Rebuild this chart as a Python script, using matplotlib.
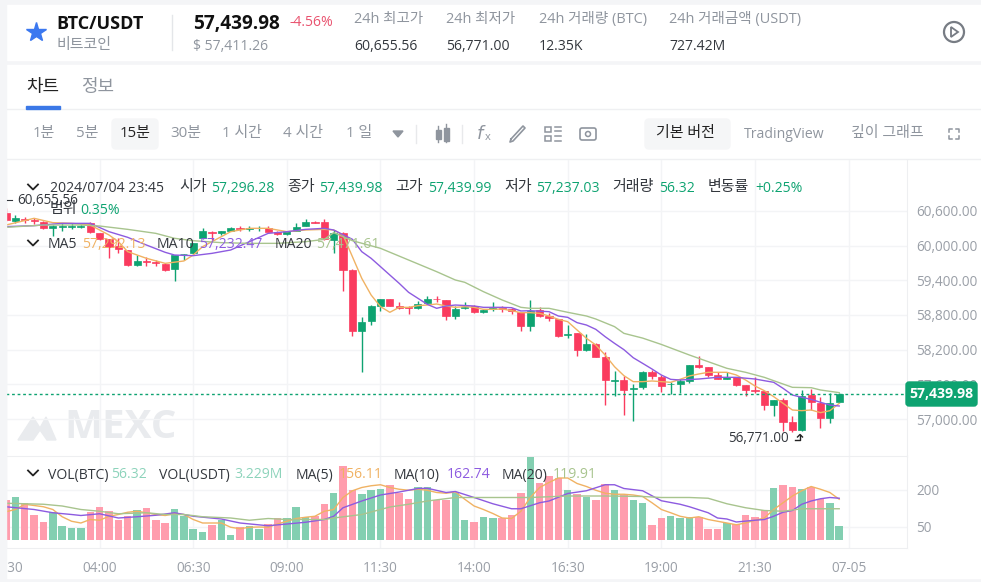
#!/usr/bin/env python3
"""
Plot BTC/USDT 15 minute candles with volume
"""

import matplotlib.pyplot as plt
from matplotlib.patches import Circle, FancyBboxPatch, Polygon, Rectangle

candle_idx = list(range(-10, 80))
opens = [60558, 60431, 60455, 60443, 60414, 60299, 60322, 60322, 60330, 60385,
         60224, 60114, 59992, 59924, 59664, 59740, 59711, 59682, 59590, 59848,
         59866, 60126, 60241, 60224, 60258, 60310, 60293, 60299, 60310, 60241,
         60195, 60258, 60345, 60409, 60403, 60097, 60224, 59578, 58523, 58696,
         58955, 59082, 58955, 58938, 58926, 59001, 59082, 59059, 58782, 58915,
         58955, 58851, 58903, 58921, 58897, 58846, 58609, 58886, 58782, 58724,
         58448, 58482, 58194, 58298, 58067, 57664, 57675, 57513, 57548, 57808,
         57733, 57600, 57600, 57663, 57934, 57906, 57761, 57692, 57733, 57588,
         57502, 57490, 57242, 57329, 56943, 56810, 57415, 57283, 57012, 57289]
closes = [60443, 60472, 60437, 60426, 60299, 60339, 60339, 60339, 60345, 60230,
          60114, 59982, 59936, 59664, 59734, 59717, 59693, 59578, 59837, 59860,
          60039, 60258, 60224, 60253, 60310, 60293, 60310, 60310, 60241, 60195,
          60253, 60328, 60414, 60385, 60108, 60224, 59578, 58523, 58684, 58955,
          59070, 58955, 58926, 58915, 58990, 59082, 59070, 58782, 58909, 58944,
          58846, 58886, 58921, 58903, 58874, 58609, 58874, 58782, 58742, 58436,
          58471, 58194, 58298, 58067, 57675, 57675, 57502, 57531, 57808, 57750,
          57571, 57612, 57663, 57934, 57906, 57761, 57692, 57733, 57588, 57502,
          57485, 57242, 57329, 56943, 56810, 57404, 57289, 57012, 57283, 57440]
highs = [60655, 60530, 60489, 60472, 60431, 60356, 60385, 60385, 60370, 60403,
         60224, 60120, 60126, 59930, 59837, 59808, 59751, 59705, 59845, 59860,
         60050, 60310, 60247, 60258, 60316, 60339, 60339, 60339, 60339, 60245,
         60260, 60385, 60455, 60431, 60455, 60270, 60241, 59590, 58771, 58972,
         59082, 59082, 59019, 58955, 59042, 59128, 59128, 59059, 58955, 59019,
         58967, 58897, 59019, 58955, 58915, 58857, 59059, 58932, 58828, 58736,
         58626, 58482, 58471, 58310, 58154, 57830, 57744, 57606, 57831, 57848,
         57761, 57646, 57686, 57934, 58090, 57906, 57819, 57819, 57733, 57588,
         57721, 57490, 57329, 57358, 57052, 57502, 57519, 57375, 57444, 57456]
lows = [60430, 60385, 60385, 60374, 60281, 60166, 60258, 60281, 60300, 60212,
        60100, 59780, 59866, 59647, 59650, 59647, 59647, 59561, 59393, 59751,
        59850, 60120, 60097, 60184, 60250, 60258, 60258, 60258, 60230, 60190,
        60190, 60250, 60340, 60385, 60100, 59866, 59215, 58436, 57808, 58626,
        58874, 58955, 58903, 58817, 58909, 58990, 59019, 58713, 58724, 58897,
        58840, 58840, 58874, 58846, 58817, 58523, 58523, 58759, 58696, 58413,
        58396, 58090, 58177, 58067, 57242, 57398, 57069, 56966, 57513, 57686,
        57462, 57433, 57444, 57629, 57877, 57721, 57686, 57686, 57571, 57398,
        57444, 57156, 57052, 56798, 56770, 56798, 57156, 56850, 56925, 57283]
volumes = [157, 172, 147, 100, 70, 111, 55, 46, 46, 111,
           131, 116, 77, 96, 120, 127, 77, 66, 122, 93,
           41, 30, 57, 80, 19, 50, 55, 41, 64, 86,
           86, 132, 91, 93, 143, 188, 295, 197, 181, 197,
           203, 218, 188, 161, 212, 212, 158, 158, 188, 80,
           70, 91, 86, 86, 100, 188, 330, 228, 255, 246,
           197, 181, 172, 158, 222, 197, 178, 158, 147, 57,
           86, 96, 86, 91, 91, 41, 41, 66, 64, 100,
           91, 120, 208, 217, 212, 203, 212, 161, 147, 55]

# moving averages
ma5_idx = [-10, -7, -5, -3, -1, 0, 1, 2, 3, 5, 7, 9, 10, 11, 13, 14, 16, 18, 20, 22, 24,
           25, 26, 27, 28, 29, 30, 31, 32, 33, 34, 35, 36, 37, 38, 39, 40, 41, 42, 43, 44,
           45, 46, 47, 48, 49, 50, 51, 52, 53, 54, 55, 56, 57, 58, 59, 60, 61, 62, 63, 64,
           65, 66, 67, 68, 69, 70, 71, 72, 73, 74, 75, 76, 77, 78, 79]
ma5 = [60356, 60472, 60397, 60385, 60356, 60270, 60184, 60068, 59895, 59780, 59693,
       59734, 59837, 59982, 60155, 60241, 60299, 60299, 60241, 60270, 60281,
       60270, 60183, 59809, 59434, 59145, 58944, 58846, 58932, 58932, 58961, 58972,
       58990, 58955, 58932, 58944, 58932, 58897, 58897, 58903, 58874, 58840, 58840,
       58828, 58782, 58724, 58684, 58540, 58396, 58280, 58107, 57905, 57750, 57646,
       57646, 57658, 57646, 57635, 57686, 57744, 57779, 57808, 57808, 57808, 57762,
       57675, 57571, 57490, 57387, 57271, 57156, 57144, 57156, 57110, 57144, 57271]
ma10_idx = [-10, -7, -4, -1, 1, 3, 5, 7, 8, 10, 12, 14, 16, 18, 20, 22, 24,
            25, 27, 28, 29, 30, 31, 32, 33, 34, 35, 36, 37, 38, 40, 41, 43, 44, 45, 46,
            48, 49, 50, 51, 52, 53, 54, 55, 56, 57, 58, 59, 60, 61, 62, 64, 66, 68, 70,
            71, 72, 73, 74, 75, 76, 77, 78, 79]
ma10 = [60328, 60345, 60385, 60385, 60241, 60143, 60010, 59884, 59837, 59826, 59866,
        59924, 60068, 60212, 60241, 60281, 60299,
        60270, 60109, 59895, 59780, 59636, 59491, 59347, 59192, 59088, 58984, 58915,
        58955, 58972, 58955, 58932, 58932, 58926, 58869, 58874, 58857, 58782, 58759,
        58667, 58626, 58551, 58424, 58309, 58200, 58060, 57963, 57865, 57761, 57686,
        57675, 57692, 57721, 57721, 57692, 57663, 57635, 57531, 57415, 57375, 57340,
        57289, 57242, 57225]
ma20_idx = [-10, -6, -2, 0, 3, 6, 8, 10, 13, 16, 19, 22, 24,
            25, 27, 30, 33, 36, 38, 39, 41, 43, 45, 46, 48, 50, 52, 53, 55, 56,
            58, 60, 63, 65, 67, 69, 71, 72, 74, 76, 77, 79]
ma20 = [60316, 60356, 60356, 60339, 60281, 60212, 60126, 60085, 60051, 60039, 60039,
        60068, 60108, 60224, 60085, 59953, 59751, 59549, 59405, 59365, 59203, 59059,
        58932, 58915, 58915, 58846, 58782, 58730, 58598, 58482, 58400, 58290, 58107,
        57992, 57877, 57808, 57721, 57663, 57548, 57542, 57502, 57456]

vol_ma5_idx = [-10, -9, -8, -6, -5, -4, -3, -2, -1, 0, 1, 2, 3, 4, 5, 6, 7, 8, 9, 10, 11, 12, 13, 14,
               15, 16, 17, 18, 19, 20, 21, 22, 23, 24, 25, 26, 27, 28, 29, 30, 31, 32, 33, 34, 35,
               36, 37, 38, 39, 40, 41, 42, 43, 44, 45, 46, 47, 48, 49, 50, 51, 52, 53, 54, 55, 56,
               57, 58, 59, 60, 61, 62, 63, 64, 65, 66, 67, 68, 69, 70, 71, 72, 73, 74, 75, 76, 77, 78, 79]
vol_ma5 = [111, 120, 141, 131, 120, 91, 73, 66, 80, 77, 93, 100, 109, 113, 107, 100, 96, 103, 100,
           80, 66, 66, 66, 49, 43, 49, 50, 49, 62, 73, 84, 89, 93, 113, 120, 168, 195, 208, 215,
           219, 208, 201, 197, 201, 197, 188, 185, 190, 161, 134, 120, 104, 86, 84, 113, 168,
           208, 228, 246, 246, 224, 212, 197, 185, 181, 181, 178, 172, 147, 120, 107, 93, 86,
           91, 80, 73, 66, 59, 66, 77, 86, 120, 147, 174, 195, 212, 201, 188, 161]
vol_ma10_idx = [-10, -7, -5, -3, -2, 0, 2, 4, 6, 8, 10, 13, 15, 18, 20, 22, 24, 25, 26, 28, 30, 32,
                34, 35, 37, 38, 40, 42, 44, 45, 47, 48, 50, 52, 54, 55, 56, 58, 60, 62, 63, 65, 66,
                67, 68, 70, 71, 72, 73, 74, 75, 76, 77, 78, 79]
vol_ma10 = [131, 120, 107, 100, 96, 103, 86, 91, 97, 107, 93, 82, 66, 55, 62, 69, 80, 93, 127,
            154, 178, 190, 204, 205, 188, 192, 168, 143, 123, 123, 147, 154, 184, 195, 219,
            219, 204, 195, 155, 141, 131, 107, 86, 82, 70, 77, 80, 93, 109, 116, 141, 154,
            163, 168, 165]
vol_ma20_idx = [-10, -8, -6, -4, -2, 0, 2, 5, 7, 9, 11, 14, 16, 18, 20, 22, 24, 25, 28, 31, 33,
                35, 38, 42, 46, 50, 54, 58, 60, 63, 65, 67, 69, 71, 73, 75, 77, 79]
vol_ma20 = [145, 143, 141, 134, 120, 113, 103, 107, 100, 100, 91, 86, 77, 84, 80, 80, 80, 86,
            100, 130, 141, 154, 168, 168, 168, 174, 174, 172, 168, 168, 165, 143, 127, 116,
            113, 123, 123, 123]

time_ticks = [-10, 0, 10, 20, 30, 40, 50, 60, 70, 80]
time_labels = ['01:30', '04:00', '06:30', '09:00', '11:30', '14:00', '16:30', '19:00', '21:30', '07-05']
price_ticks = [60600, 60000, 59400, 58800, 58200, 57600, 57000]
vol_ticks = [50, 200]
last_price = 57439.98

GREEN = '#0ea371'
RED = '#fa3b5e'
GRID = '#f3f4f6'
GRAY = '#8f959e'
DARK = '#33373d'
C5 = '#f0b263'
C10 = '#8d5be0'
C20 = '#a8c48e'


def put(ax, x, y, s, px=14, color=DARK, ha='left', weight='normal', alpha=1):
    """Text at pixel position, size in pixels"""
    ax.text(x, y, s, fontsize=px * 0.72, color=color, ha=ha, va='center', fontweight=weight, alpha=alpha)


def chevron(ax, x, y):
    ax.plot([x - 5, x, x + 5], [y - 2.5, y + 2.5, y - 2.5], color='#222222', linewidth=1.3)


def draw_background(ax):
    """Cards, watermark and toolbar backgrounds"""
    ax.set_xlim(0, 981)
    ax.set_ylim(582, 0)
    ax.axis('off')
    ax.add_patch(Rectangle((0, 0), 981, 582, color='#f4f5f7'))
    ax.add_patch(Rectangle((6, 5), 975, 55, color='white'))
    ax.add_patch(Rectangle((6, 65), 975, 513, color='white'))
    ax.plot([6, 981], [109, 109], color='#eff0f2', linewidth=1)
    ax.plot([6, 981], [159, 159], color='#eff0f2', linewidth=1)
    ax.add_patch(FancyBboxPatch((115, 122), 40, 24, boxstyle='round,pad=3,rounding_size=4', color='#f5f6f7'))
    ax.add_patch(FancyBboxPatch((648, 122), 79, 24, boxstyle='round,pad=3,rounding_size=4', color='#f5f6f7'))
    # watermark
    ax.add_patch(Polygon([(18, 440), (33, 417), (40, 428), (46, 417), (56, 440), (47, 440), (40, 430), (33, 440)],
                         color='#e9ebee'))
    ax.text(64, 428, 'MEXC', fontsize=29, fontweight='bold', color='#e9ebee', va='center')


def draw_page(ax):
    """Header, toolbar and legends drawn over the chart"""
    ax.set_xlim(0, 981)
    ax.set_ylim(582, 0)
    ax.axis('off')
    ax.patch.set_alpha(0)
    ax.add_patch(Rectangle((0, 0), 6, 582, color='#f4f5f7'))

    # ===== Header =====
    ax.plot([36], [32], marker='*', markersize=15, color='#3b78f0')
    put(ax, 56, 24, 'BTC/USDT', 18, '#111111', weight='bold')
    put(ax, 56, 46, '비트코인', 15, GRAY)
    ax.plot([172, 172], [15, 50], color='#e4e6e9', linewidth=1)
    put(ax, 193, 24, '57,439.98', 19, '#111111', weight='bold')
    put(ax, 290, 23, '-4.56%', 14, '#e9536f')
    put(ax, 193, 46, '$ 57,411.26', 14, GRAY)
    heads = ['24h 최고가', '24h 최저가', '24h 거래량 (BTC)', '24h 거래금액 (USDT)']
    vals = ['60,655.56', '56,771.00', '12.35K', '727.42M']
    for x, h, v in zip([354, 446, 539, 669], heads, vals):
        put(ax, x, 20, h, 14.5, GRAY)
        put(ax, x, 46, v, 14, DARK)
    ax.add_patch(Circle((954, 32), 10, fill=False, edgecolor='#777c84', linewidth=1.6))
    ax.add_patch(Polygon([(951, 27), (951, 37), (958, 32)], fill=False, edgecolor='#777c84', linewidth=1.3))

    # ===== Tabs and toolbar =====
    put(ax, 26, 87, '차트', 18, '#222222')
    put(ax, 81, 87, '정보', 18, GRAY)
    ax.add_patch(Rectangle((26, 106), 34, 2.5, color='#3b78e7'))
    for x, s in zip([33, 76, 170, 222, 283, 346], ['1분', '5분', '30분', '1 시간', '4 시간', '1 일']):
        put(ax, x, 133, s, 15, GRAY)
    put(ax, 120, 133, '15분', 15, '#222222')
    ax.add_patch(Polygon([(393, 131), (403, 131), (398, 137)], color=GRAY))
    ax.plot([416, 416], [125, 143], color='#e8e9eb', linewidth=1)
    ax.plot([462, 462], [125, 143], color='#e8e9eb', linewidth=1)
    for x, y0, y1, b0, b1 in [(438, 126, 142, 130, 139), (446, 124, 142, 128, 141)]:
        ax.plot([x, x], [y0, y1], color=GRAY, linewidth=1)
        ax.add_patch(Rectangle((x - 2.5, b0), 5, b1 - b0, color=GRAY))
    ax.text(476, 134, r'$f$', fontsize=13, color=GRAY, va='center')
    ax.text(485, 138, 'x', fontsize=8, color=GRAY, va='center')
    ax.plot([511, 523, 525, 513, 510, 511], [139, 126, 128, 141, 142, 139], color=GRAY, linewidth=1.2)
    ax.add_patch(Rectangle((545, 127), 6, 5, fill=False, edgecolor=GRAY, linewidth=1.1))
    ax.add_patch(Rectangle((545, 136), 6, 5, fill=False, edgecolor=GRAY, linewidth=1.1))
    for y in [127, 131, 136, 141]:
        ax.plot([555, 561], [y, y], color=GRAY, linewidth=1.1)
    ax.add_patch(FancyBboxPatch((581, 129), 14, 10, boxstyle='round,pad=1,rounding_size=2', fill=False,
                                edgecolor=GRAY, linewidth=1.2))
    ax.add_patch(Circle((588, 134), 2.5, fill=False, edgecolor=GRAY, linewidth=1.1))
    put(ax, 656, 133, '기본 버전', 15, '#222222')
    put(ax, 744, 134, 'TradingView', 14, GRAY)
    put(ax, 851, 133, '깊이 그래프', 15, GRAY)
    for sx, sy in [(-1, -1), (1, -1), (-1, 1), (1, 1)]:
        cx, cy = 954 + 5 * sx, 134 + 5 * sy
        ax.plot([cx - 3 * sx, cx, cx], [cy, cy, cy - 3 * sy], color=GRAY, linewidth=1.1)

    # ===== Legends =====
    chevron(ax, 33, 187)
    put(ax, 50, 188, '2024/07/04 23:45', 14)
    for x, s in zip([179, 287, 395, 504, 612, 708], ['시가', '종가', '고가', '저가', '거래량', '변동률']):
        put(ax, x, 188, s, 15)
    for x, s in zip([211, 319, 428, 536, 659, 755], ['57,296.28', '57,439.98', '57,439.99', '57,237.03', '56.32', '+0.25%']):
        put(ax, x, 188, s, 14, GREEN)
    put(ax, 50, 210, '범위', 15)
    put(ax, 80, 210, '0.35%', 14, GREEN)
    ax.plot([7, 12], [200, 200], color=DARK, linewidth=0.8)
    put(ax, 17, 200, '60,655.56', 13.5, DARK)
    chevron(ax, 33, 243)
    put(ax, 48, 245, 'MA5', 14)
    put(ax, 82, 245, '57,292.13', 14, C5)
    put(ax, 157, 245, 'MA10', 14)
    put(ax, 199, 245, '57,232.47', 14, C10)
    put(ax, 275, 245, 'MA20', 14)
    put(ax, 316, 245, '57,471.61', 14, C20)
    chevron(ax, 33, 473)
    put(ax, 48, 475, 'VOL(BTC)', 14)
    put(ax, 111, 475, '56.32', 14, '#8dd3bb')
    put(ax, 159, 475, 'VOL(USDT)', 14)
    put(ax, 234, 475, '3.229M', 14, '#8dd3bb')
    put(ax, 296, 475, 'MA(5)', 14)
    put(ax, 339, 475, '156.11', 14, C5)
    put(ax, 394, 475, 'MA(10)', 14)
    put(ax, 447, 475, '162.74', 14, C10)
    put(ax, 502, 475, 'MA(20)', 14)
    put(ax, 553, 475, '119.91', 14, C20)

    # low marker and last price label
    put(ax, 728, 439, '56,771.00', 13.5, DARK)
    ax.plot([795, 800, 800], [440, 440, 435], color='#222222', linewidth=1)
    ax.plot([797.5, 800, 802.5], [437, 434.5, 437], color='#222222', linewidth=1)
    ax.add_patch(FancyBboxPatch((908, 384), 67, 20, boxstyle='round,pad=2,rounding_size=3', color=GREEN))
    put(ax, 941.5, 393.5, '57,439.98', 14, 'white', ha='center', weight='bold')


def plot_chart():
    """Create visualization: candles over volume"""
    plt.rcParams['font.family'] = ['Open Sans', 'Noto Sans CJK KR']
    fig = plt.figure(figsize=(9.81, 5.82), dpi=100)

    back = fig.add_axes([0, 0, 1, 1], zorder=0)
    draw_background(back)

    # ===== Candles =====
    ax = fig.add_axes([6 / 981, (582 - 456) / 582, 901 / 981, 296 / 582], zorder=1)
    ax.patch.set_alpha(0)
    colors = [GREEN if c >= o else RED for o, c in zip(opens, closes)]
    ax.vlines(candle_idx, lows, highs, colors=colors, linewidth=1, zorder=3)
    bottoms = [min(o, c) for o, c in zip(opens, closes)]
    heights = [abs(o - c) for o, c in zip(opens, closes)]
    ax.bar(candle_idx, heights, 0.76, bottom=bottoms, color=colors, edgecolor=colors, linewidth=0.5, zorder=3)
    ax.plot(ma5_idx, ma5, color=C5, linewidth=1, zorder=4)
    ax.plot(ma10_idx, ma10, color=C10, linewidth=1, zorder=4)
    ax.plot(ma20_idx, ma20, color=C20, linewidth=1, zorder=4)
    ax.axhline(last_price, color=GREEN, linestyle=(0, (2, 2)), linewidth=1, zorder=5)
    ax.set_xlim(-9.87, 86.24)
    ax.set_ylim(56360, 61481)
    ax.set_yticks(price_ticks)
    ax.set_yticklabels([f'{p:,.2f}' for p in price_ticks])
    ax.set_xticks(time_ticks)
    ax.tick_params(axis='x', length=0, labelbottom=False)
    ax.yaxis.tick_right()
    ax.tick_params(axis='y', length=0, pad=6.5, labelcolor='#9a9fa7', labelsize=9.8)
    ax.grid(True, color=GRID, linewidth=1)
    ax.set_axisbelow(True)
    for name in ['top', 'left', 'bottom']:
        ax.spines[name].set_visible(False)
    ax.spines['right'].set_color('#eeeff1')

    # ===== Volume =====
    vol = fig.add_axes([6 / 981, (582 - 548) / 582, 901 / 981, 92 / 582], zorder=1)
    vol.patch.set_alpha(0)
    vol_colors = ['#83cfb1' if c >= o else '#ff9dad' for o, c in zip(opens, closes)]
    vol.bar(candle_idx, volumes, 0.8, color=vol_colors, zorder=3)
    vol.plot(vol_ma5_idx, vol_ma5, color=C5, linewidth=1, zorder=4)
    vol.plot(vol_ma10_idx, vol_ma10, color=C10, linewidth=1, zorder=4)
    vol.plot(vol_ma20_idx, vol_ma20, color=C20, linewidth=1, zorder=4)
    vol.set_xlim(-9.87, 86.24)
    vol.set_ylim(-34, 334)
    vol.set_yticks(vol_ticks)
    vol.set_xticks(time_ticks)
    vol.set_xticklabels(time_labels)
    vol.yaxis.tick_right()
    vol.tick_params(axis='y', length=0, pad=6.5, labelcolor='#9a9fa7', labelsize=9.8)
    vol.tick_params(axis='x', length=0, pad=9, labelcolor='#9a9fa7', labelsize=9.8)
    vol.grid(True, color=GRID, linewidth=1)
    vol.set_axisbelow(True)
    for name in ['left']:
        vol.spines[name].set_visible(False)
    for name in ['top', 'bottom', 'right']:
        vol.spines[name].set_color('#eeeff1')

    top = fig.add_axes([0, 0, 1, 1], zorder=3)
    draw_page(top)

    plt.savefig('out.png', dpi=100)
    plt.close()


if __name__ == '__main__':
    plot_chart()
